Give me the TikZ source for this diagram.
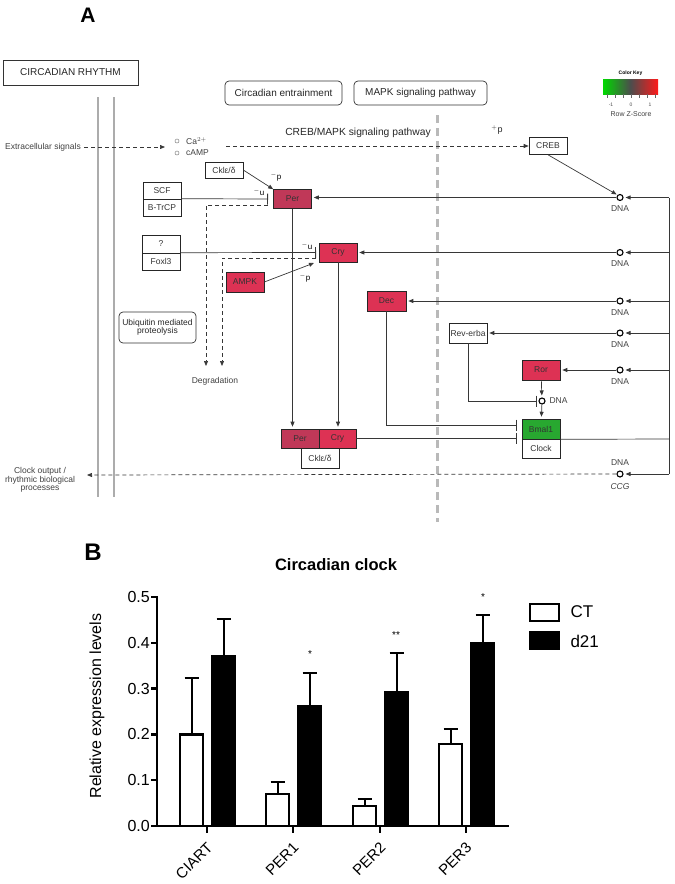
\documentclass[tikz,border=0pt]{standalone}
\usepackage{fontspec}
\setmainfont{Liberation Sans}
\usetikzlibrary{arrows.meta,positioning}

\definecolor{perred}{RGB}{192,56,88}
\definecolor{cryred}{RGB}{221,50,84}
\definecolor{bmalgreen}{RGB}{40,168,48}
\definecolor{pathgrey}{RGB}{55,55,55}
\newcommand{\pxfont}[1]{\fontsize{#1}{#1}\selectfont}

\begin{document}
\begin{tikzpicture}[x=1pt,y=-1pt,>={Triangle[length=5pt,width=4pt]},
    link/.style={draw=pathgrey,line width=0.7pt},
    dashlink/.style={link,dash pattern=on 4pt off 3pt},
    inh/.style={link,-{Bar[width=11pt,line width=0.9pt]}},
    gene/.style={draw=black!85,line width=0.6pt,minimum width=38pt,minimum height=19pt,inner sep=0pt,font=\pxfont{8.5},text=black!80},
    hitA/.style={gene,fill=perred},
    hitB/.style={gene,fill=cryred},
    dna/.style={circle,draw=black,line width=1.1pt,fill=white,minimum size=6pt,inner sep=0pt},
    lbl/.style={font=\pxfont{8.5},text=black!75},
    mapbox/.style={draw=black!80,rounded corners=4pt,line width=0.7pt,inner sep=0pt,font=\pxfont{10},text=black!85},
    axisline/.style={line width=2.4pt,line cap=rect}]

\useasboundingbox (0,0) rectangle (675,884);

% ---------------- panel A
\node[font=\bfseries\pxfont{21}] (lblA) at (88,15) {A};

\node[mapbox,rounded corners=0pt,minimum width=135pt,minimum height=25pt] (rhythm) at (70.5,72.5) {CIRCADIAN RHYTHM};
\node[mapbox,minimum width=117pt,minimum height=24pt] (entrain) at (283.5,93) {Circadian entrainment};
\node[mapbox,minimum width=133pt,minimum height=24pt] (mapk) at (420.5,93) {MAPK signaling pathway};

% membrane lines
\draw[gray!65,line width=2.6pt] (98,97) -- (98,497);
\draw[gray!65,line width=2.6pt] (114,97) -- (114,497);
\draw[gray!55,line width=3pt,dash pattern=on 8pt off 5pt] (437,115) -- (437,522);

% colour key
\node[font=\bfseries\pxfont{5}] (keyttl) at (630.5,73) {Color Key};
\shade[left color=green!85!black,right color=red!90,middle color=black!70] (603,79) rectangle (658,94);
\foreach \k in {607,615,623,631,639,647,655} \draw[black!60,line width=0.4pt] (\k,94) -- (\k,98);
\node[font=\pxfont{5},text=black!70] (km) at (611,105) {-1};
\node[font=\pxfont{5},text=black!70] (k0) at (631,105) {0};
\node[font=\pxfont{5},text=black!70] (kp) at (650,105) {1};
\node[font=\pxfont{7},text=black!75] (zs) at (631,114) {Row Z-Score};

% signals
\node[lbl] (extra) at (43,147) {Extracellular signals};
\coordinate (extraend) at (165,147);
\node[circle,draw=black!50,line width=0.5pt,minimum size=4pt,inner sep=0pt] (ca) at (177,141) {};
\node[circle,draw=black!50,line width=0.5pt,minimum size=4pt,inner sep=0pt] (camp) at (177,153) {};
\node[lbl,anchor=west,inner sep=0pt] (catxt) at (186,141) {Ca$^{2+}$};
\node[lbl,anchor=west,inner sep=0pt] (camptxt) at (186,153) {cAMP};
\node[font=\pxfont{10.3},text=black!85] (crebtxt) at (358,133) {CREB/MAPK signaling pathway};
\node[font=\pxfont{9},text=black!85] (plusp) at (497,130) {$^{+}$p};

\node[gene,minimum height=17pt] (creb) at (548,146) {CREB};

% transcription sites
\node[dna] (dna1) at (620,197.5) {};
\node[dna] (dna2) at (620,252.5) {};
\node[dna] (dna3) at (620,301) {};
\node[dna] (dna4) at (620,333) {};
\node[dna] (dna5) at (620,370) {};
\node[dna] (dna6) at (620,474) {};
\node[dna] (dna7) at (542,401) {};
\node[lbl] (dnat1) at (620,209) {DNA};
\node[lbl] (dnat2) at (620,264) {DNA};
\node[lbl] (dnat3) at (620,313) {DNA};
\node[lbl] (dnat4) at (620,345) {DNA};
\node[lbl] (dnat5) at (620,382) {DNA};
\node[lbl] (dnat6) at (620,463) {DNA};
\node[lbl,font=\itshape\pxfont{8.5}] (ccg) at (620,487) {CCG};
\node[lbl,anchor=west] (dnat7) at (546,401) {DNA};

\coordinate (t1) at (669,197.5);
\coordinate (t2) at (669,252.5);
\coordinate (t3) at (669,301);
\coordinate (t4) at (669,333);
\coordinate (t5) at (669,370);
\coordinate (t6) at (669,474);
\coordinate (tb) at (669,439);

% genes
\node[hitA] (per) at (292.5,199) {Per};
\node[hitB] (cry) at (338,252.5) {Cry};
\node[gene,minimum height=16pt] (ckl) at (224,170) {Cklε/δ};
\node[gene,minimum height=17pt] (scf) at (162,190.5) {SCF};
\node[gene,minimum height=17pt] (btrcp) at (162,207.5) {B-TrCP};
\node[gene,minimum height=18pt] (unk) at (161,244) {?};
\node[gene,minimum height=17pt] (foxl) at (161,261.5) {Foxl3};
\node[hitB,minimum height=20pt] (ampk) at (245,282) {AMPK};
\node[hitB,minimum height=20pt,minimum width=39pt] (dec) at (386.5,301) {Dec};
\node[gene,minimum height=20pt] (reverb) at (468,333) {Rev-erba};
\node[hitB,minimum height=20pt] (ror) at (541,370) {Ror};
\node[gene,fill=bmalgreen,minimum height=20pt] (bmal) at (541,429) {Bmal1};
\node[gene,minimum height=19pt] (clock) at (541,448.5) {Clock};
\node[hitA] (perC) at (300,438.5) {Per};
\node[hitB,minimum width=37pt] (cryC) at (337.5,438.5) {Cry};
\node[gene,minimum height=20pt] (cklC) at (320,458) {Cklε/δ};

\node[mapbox,minimum width=77pt,minimum height=31pt,align=center,font=\pxfont{8.5}] (ubq) at (157.5,327.5) {Ubiquitin mediated\\proteolysis};
\node[lbl] (degr) at (215,381) {Degradation};
\node[lbl,align=center] (output) at (40,480) {Clock output /\\rhythmic biological\\processes};

\coordinate (degr1) at (206,366);
\coordinate (degr2) at (222,366);
\coordinate (outend) at (87,475);

% connectors
\draw[dashlink,->] (extra) -- (extraend);
\draw[dashlink,->] (226,146) -- (creb);
\draw[link,->,shorten >=1pt] (creb.south) -- (dna1.north west);

\draw[link] (t1) -- (t6);
\path[every edge/.style={link,->,shorten >=2pt}]
    (t1) edge (dna1)
    (t2) edge (dna2)
    (t3) edge (dna3)
    (t4) edge (dna4)
    (t5) edge (dna5)
    (t6) edge (dna6)
    (dna1) edge (per.east |- dna1)
    (dna2) edge (cry)
    (dna3) edge (dec)
    (dna4) edge (reverb)
    (dna5) edge (ror)
    (ror) edge (dna7)
    (dna7) edge (bmal)
    (per) edge (perC.north -| per.south)
    (cry) edge (cryC.north -| cry.south);
\draw[link] (bmal.south east) -- (tb);
\draw[dashlink,->] (dna6) -- (outend);

\draw[link,->] (ckl.east) -- (per.north west);
\node[font=\pxfont{8}] (pp1) at (276,177) {$^{-}$p};
\draw[inh] (btrcp.north east) -- (268,199);
\node[font=\pxfont{8}] (pu1) at (259,192) {$^{-}$u};
\draw[dashlink,->] (268,205) -- (206,205) -- (degr1);

\draw[inh] (foxl.north east) -- (316,252.5);
\node[font=\pxfont{8}] (pu2) at (307,246) {$^{-}$u};
\draw[dashlink,->] (316,258) -- (222,258) -- (degr2);
\draw[link,->] (ampk.east) -- (314,263);
\node[font=\pxfont{8}] (pp2) at (305,278) {$^{-}$p};

\draw[inh] (cryC.east) -- (517,438.5);
\draw[inh] (dec.south) -- (386.5,425) -- (517,425);
\draw[inh] (reverb.south) -- (468,401) -- (537,401);

% ---------------- panel B
\node[font=\bfseries\pxfont{24}] (lblB) at (93,552) {B};
\node[font=\bfseries\pxfont{16.5}] (title) at (336,565) {Circadian clock};
\node[font=\pxfont{16},rotate=90] (ylab) at (97,706) {Relative expression levels};

% error bars, then bars
\foreach \x/\c/\ce/\d/\de in {207/734.4/678/655.6/619, 293/794/781.6/706/673, 380/805.8/799.4/691.8/652.9, 466/744/729/642.8/614.9} {
  \draw[line width=2pt] (\x-15.5,\c) -- (\x-15.5,\ce) (\x-22.5,\ce) -- (\x-8.5,\ce);
  \draw[line width=2pt] (\x+16.5,\d) -- (\x+16.5,\de) (\x+9.5,\de) -- (\x+23.5,\de);
  \draw[line width=2.2pt,fill=white] (\x-27,826) rectangle (\x-4,\c);
  \draw[line width=2.2pt,fill=black] (\x+5,826) rectangle (\x+28,\d);
}

% axes
\draw[axisline] (157,597) -- (157,826) -- (508,826);
\foreach \v/\y in {0.0/826,0.1/780.2,0.2/734.4,0.3/688.6,0.4/642.8,0.5/597} {
  \draw[line width=2.4pt] (151,\y) -- (157,\y);
  \node[font=\pxfont{16},anchor=east,inner sep=1pt] at (151,\y) {\v};
}
\foreach \x/\g in {207/CIART,293/PER1,380/PER2,466/PER3} {
  \draw[line width=2.4pt] (\x,826) -- (\x,833);
  \node[font=\pxfont{15},anchor=east,rotate=45,inner sep=0pt] at (\x+3,845) {\g};
}

\node[font=\pxfont{10}] (s1) at (310,654) {*};
\node[font=\pxfont{10}] (s2) at (396,635) {**};
\node[font=\pxfont{10}] (s3) at (483,597) {*};

% legend
\draw[line width=2.2pt,fill=white] (530,604) rectangle (559,621);
\draw[line width=2.2pt,fill=black] (530,632) rectangle (559,649);
\node[font=\pxfont{17},anchor=west] (ct) at (567,612) {CT};
\node[font=\pxfont{17},anchor=west] (d21) at (567,641) {d21};

\end{tikzpicture}
\end{document}
